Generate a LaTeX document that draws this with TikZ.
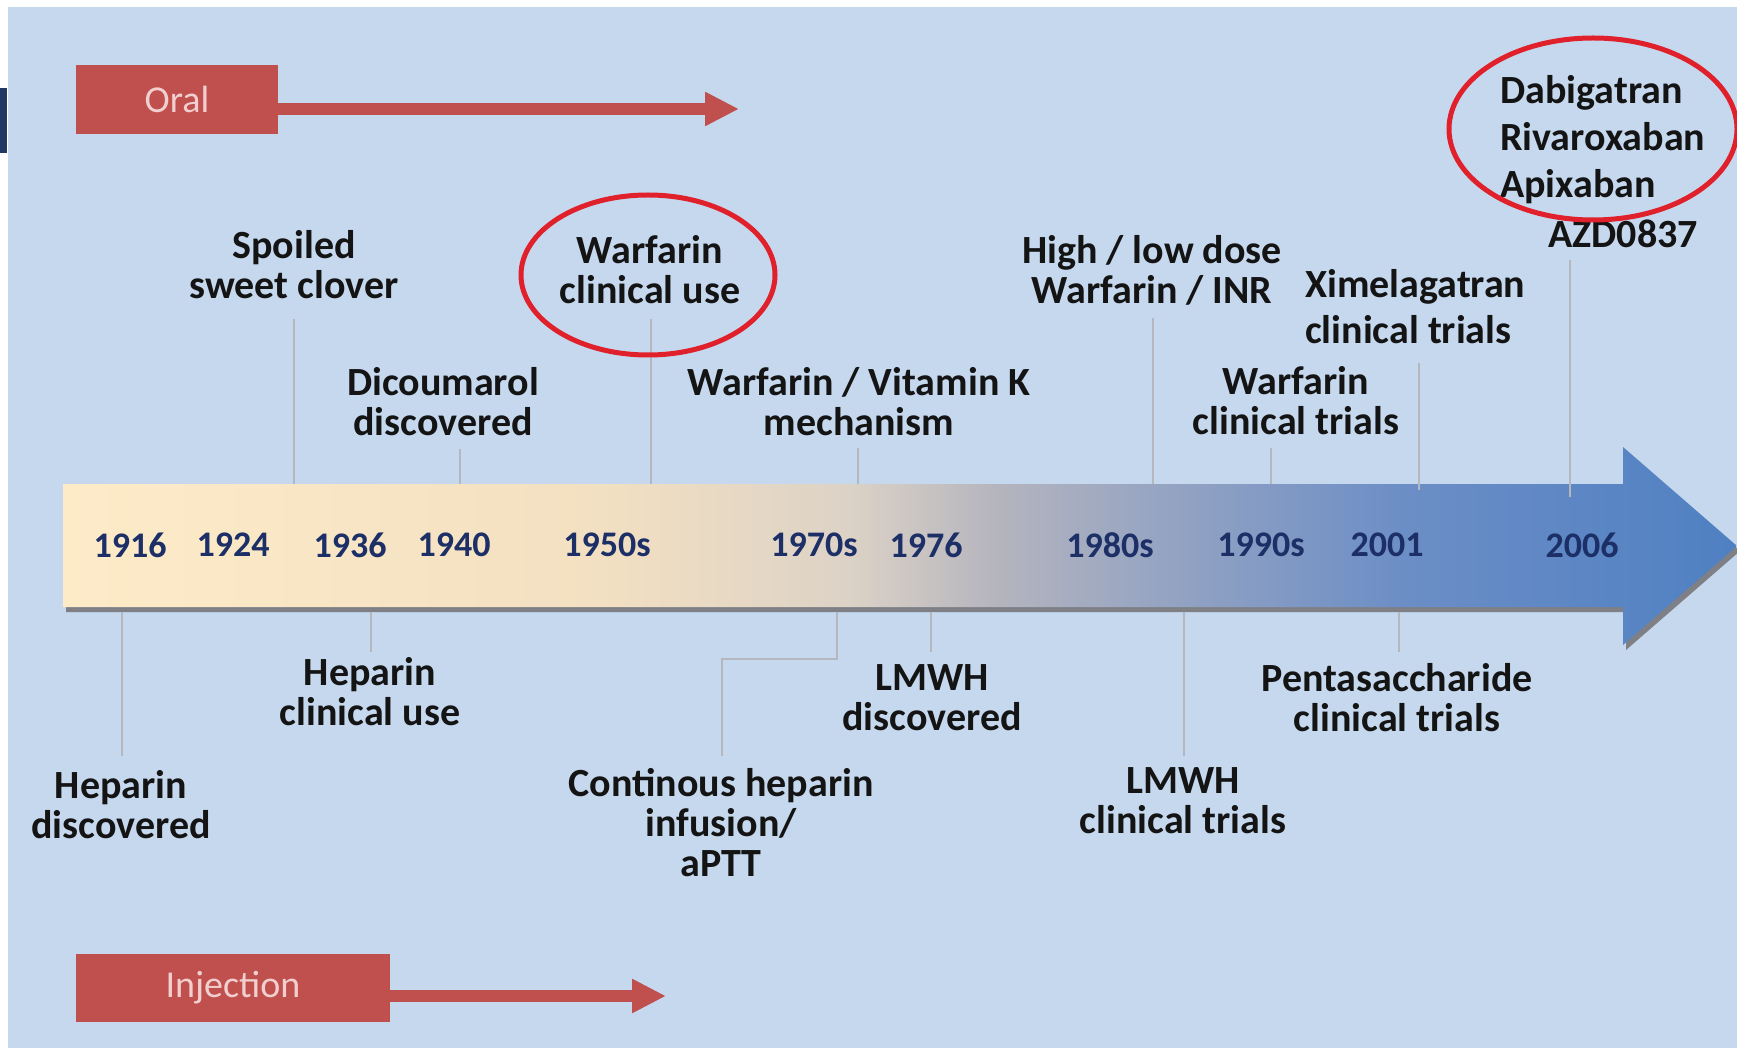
\documentclass[tikz,border=0pt]{standalone}
\usepackage{fontspec}
\setmainfont{Carlito}
\usepackage{xcolor}
\usetikzlibrary{positioning,arrows.meta,shapes.geometric}

\definecolor{fond}{HTML}{C6D8EE}
\definecolor{navy}{HTML}{1F3864}
\definecolor{boxred}{HTML}{C0504D}
\definecolor{boxtxt}{HTML}{F0CFCE}
\definecolor{ringred}{HTML}{E0202A}
\definecolor{yearblue}{HTML}{1C2F66}
\definecolor{ink}{HTML}{141414}
\definecolor{tickgray}{HTML}{B4B8BE}
\definecolor{ombre}{HTML}{7E8086}
\definecolor{friseA}{HTML}{FDEBC8}
\definecolor{friseB}{HTML}{F3E0C2}
\definecolor{friseC}{HTML}{DCD2C6}
\definecolor{friseD}{HTML}{B4B4BE}
\definecolor{friseE}{HTML}{97A5C2}
\definecolor{friseF}{HTML}{6C8EC6}
\definecolor{friseG}{HTML}{4F80C2}

\pgfdeclarehorizontalshading{frise}{100bp}{color(0bp)=(friseA); color(25bp)=(friseA);
  color(41bp)=(friseB); color(48.5bp)=(friseC); color(53bp)=(friseD);
  color(57.5bp)=(friseE); color(65bp)=(friseF); color(75bp)=(friseG); color(100bp)=(friseG)}

\begin{document}
\begin{tikzpicture}[x=1pt, y=-1pt,
  event/.style={font=\bfseries\fontsize{40}{40}\selectfont, text=ink, align=center, inner sep=0pt},
  year/.style={font=\bfseries\fontsize{36}{36}\selectfont, text=yearblue, inner sep=0pt},
  tick/.style={draw=tickgray, line width=2pt},
  ring/.style={ellipse, draw=ringred, line width=5pt, inner sep=0pt},
  medbox/.style={fill=boxred, text=boxtxt, font=\fontsize{38}{38}\selectfont, inner sep=0pt},
  medarrow/.style={boxred, line width=12pt, -{Triangle[length=34pt,width=32pt]}}]

  % === Fond ===
  \useasboundingbox (0,0) rectangle (1737,1048);
  \fill[white] (0,0) rectangle (1737,1048);
  \fill[fond] (8,7) rectangle (1737,1048);
  \fill[navy] (0,88) rectangle (7,153);

  % === Flèche du temps ===
  \fill[ombre, xshift=3pt, yshift=-5pt] (63,484) -- (1623,484) -- (1623,447) -- (1737,546)
    -- (1623,645) -- (1623,607) -- (63,607) -- cycle;
  \shade[shading=frise] (63,484) -- (1623,484) -- (1623,447) -- (1737,546)
    -- (1623,645) -- (1623,607) -- (63,607) -- cycle;

  % === Traits de rappel ===
  \foreach \n/\x/\ya/\yb in {spoiled/294/319/484, dicoum/460/449/484, warfuse/651/319/484,
      vitk/858/448/484, highlow/1153/318/484, warftrial/1271/448/484,
      ximel/1419/363/490, dabig/1570/260/497,
      hepdisc/122/612/756, hepuse/371/612/652, lmwhdisc/931/612/652,
      lmwhtri/1184/612/756, penta/1399/612/652}{
    \coordinate (\n-a) at (\x,\ya);
    \coordinate (\n-b) at (\x,\yb);
    \draw[tick] (\n-a) -- (\n-b);
  }
  \coordinate (contin-a) at (837,612);
  \coordinate (contin-b) at (722,756);
  \draw[tick] (contin-a) -- ++(0,47) -| (contin-b);

  % === Années ===
  \foreach \an/\x in {1916/130, 1924/233, 1936/350, 1940/454, 1950s/607, 1970s/814,
      1976/926, 1980s/1110, 1990s/1261, 2001/1387, 2006/1582}
    \node[year] (y\an) at (\x,545) {\an};

  % === Au-dessus de la frise ===
  \node[event] (spoiled) at (294,265) {Spoiled\\sweet clover};
  \node[event] (dicoum) at (443,402) {Dicoumarol\\discovered};
  \node[event] (warfuse) at (650,270) {Warfarin\\clinical use};
  \node[event] (vitk) at (859,402) {Warfarin / Vitamin K\\mechanism};
  \node[event] (highlow) at (1152,270) {High / low dose\\Warfarin / INR};
  \node[event, align=left, anchor=west, font=\bfseries\fontsize{40}{46}\selectfont] (ximel) at (1305,307) {Ximelagatran\\clinical trials};
  \node[event] (warftrial) at (1296,401) {Warfarin\\clinical trials};
  \node[event, align=left, anchor=west, font=\bfseries\fontsize{40}{47}\selectfont] (dabig) at (1500,140) {Dabigatran\\Rivaroxaban\\Apixaban};
  \node[event, anchor=west] (azd) at (1548,234) {AZD0837};

  % === Sous la frise ===
  \node[event] (hepdisc) at (121,805) {Heparin\\discovered};
  \node[event] (hepuse) at (370,692) {Heparin\\clinical use};
  \node[event] (contin) at (721,823) {Continous heparin\\infusion/\\aPTT};
  \node[event] (lmwhdisc) at (932,698) {LMWH\\discovered};
  \node[event] (lmwhtri) at (1183,801) {LMWH\\clinical trials};
  \node[event] (penta) at (1397,698) {Pentasaccharide\\clinical trials};

  % === Cercles rouges ===
  \node[ring, minimum width=254pt, minimum height=160pt] (ring1) at (648,275) {};
  \node[ring, minimum width=288pt, minimum height=182pt] (ring2) at (1593,129) {};

  % === Voies d'administration ===
  \node[medbox, minimum width=202pt, minimum height=69pt] (oral) at (177,99.5) {Oral};
  \coordinate (oralend) at (739,109);
  \draw[medarrow] (oral.east |- oralend) -- (oralend);

  \node[medbox, minimum width=314pt, minimum height=68pt] (inj) at (233,988) {Injection};
  \coordinate (injend) at (666,996);
  \draw[medarrow] (inj.east |- injend) -- (injend);

\end{tikzpicture}
\end{document}
